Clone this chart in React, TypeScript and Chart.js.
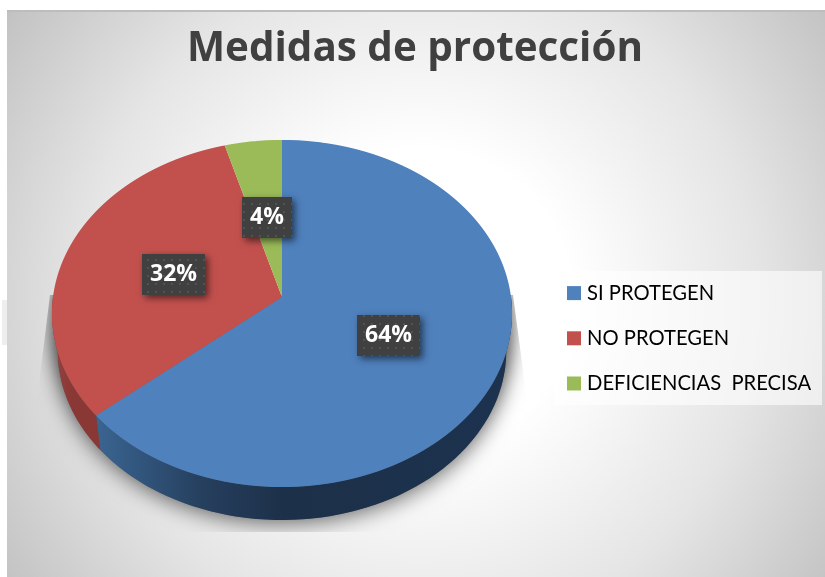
import React, { useEffect, useRef } from "react";
import { Chart, registerables } from "chart.js";

Chart.register(...registerables);

const categories = ["SI PROTEGEN", "NO PROTEGEN", "DEFICIENCIAS  PRECISA"];
const values = [63.8, 31.8, 4.4];
const faceColors = ["#4f81bd", "#c2514e", "#9bbb59"];
const wallStops: string[][] = [
  ["#3a6592", "#26405f", "#1d3049", "#1c324e"],
  ["#954340", "#8f3d3a", "#8a3835", "#8a3835"],
  ["#6d8a3b", "#6d8a3b", "#6d8a3b", "#6d8a3b"],
];
const titleText = "Medidas de protección";

// projected disc geometry (tilted circle seen in perspective)
const CX = 282;
const CY = 297;
const RX = 229;
const RY = 172;
const K = 0.095;
const FAR_SCALE = 0.975;
const FAR_DROP = 37.75;
const FONT = "'Open Sans', sans-serif";

const project = (u: number, v: number) => {
  const w = 1 - K * v;
  return { x: CX + (RX * u) / w, y: CY + (RY * v) / w };
};

// the lower rim of the disc is further away, so it is a little smaller
const projectFar = (u: number, v: number) => {
  const p = project(u, v);
  return { x: CX + FAR_SCALE * (p.x - CX), y: CY + FAR_DROP + FAR_SCALE * (p.y - CY) };
};

const trace = (
  ctx: CanvasRenderingContext2D,
  a0: number,
  a1: number,
  fn: (u: number, v: number) => { x: number; y: number },
  first: boolean
) => {
  const n = 64;
  for (let i = 0; i <= n; i++) {
    const a = a0 + ((a1 - a0) * i) / n;
    const p = fn(Math.cos(a), Math.sin(a));
    if (i === 0 && first) ctx.moveTo(p.x, p.y);
    else ctx.lineTo(p.x, p.y);
  }
};

const discPlugin = {
  id: "disc3d",
  beforeDraw(chart: any) {
    const ctx: CanvasRenderingContext2D = chart.ctx;
    ctx.save();
    ctx.fillStyle = "#ffffff";
    ctx.fillRect(0, 0, chart.width, chart.height);
    ctx.fillStyle = "#eeeeee";
    ctx.fillRect(2, 300, 5, 45);
    const g = ctx.createRadialGradient(420, 300, 0, 420, 300, 504);
    g.addColorStop(0, "#ffffff");
    g.addColorStop(0.3, "#ffffff");
    g.addColorStop(0.67, "#e5e5e5");
    g.addColorStop(1, "#c2c2c2");
    ctx.fillStyle = g;
    ctx.fillRect(7, 12, 818, 565);
    ctx.fillStyle = "#bdbdbd";
    ctx.fillRect(7, 10, 818, 2);
    ctx.fillStyle = "rgba(255,255,255,0.6)";
    ctx.fillRect(554, 271, 268, 134);
    ctx.restore();
    const lg = chart.legend;
    const pad = lg.options.labels.padding;
    lg.left = 571 - pad;
    lg.right = 825;
    lg.top = 283 - pad;
    lg.bottom = 577;
  },
  beforeDatasetsDraw(chart: any) {
    const ctx: CanvasRenderingContext2D = chart.ctx;
    const arcs = chart.getDatasetMeta(0).data;

    // soft shadow below the disc, cut off by a trapezoid as in the picture
    ctx.save();
    ctx.beginPath();
    ctx.moveTo(50, 295);
    ctx.lineTo(37, 400);
    ctx.lineTo(37, 532);
    ctx.lineTo(527, 532);
    ctx.lineTo(527, 400);
    ctx.lineTo(513, 295);
    ctx.closePath();
    ctx.clip();
    ctx.shadowColor = "rgba(0,0,0,0.6)";
    ctx.shadowBlur = 22;
    ctx.shadowOffsetY = 3;
    ctx.fillStyle = "#666666";
    ctx.beginPath();
    trace(ctx, 0, Math.PI * 2, projectFar, true);
    ctx.closePath();
    ctx.fill();
    ctx.beginPath();
    trace(ctx, 0, Math.PI * 2, project, true);
    ctx.closePath();
    ctx.fill();
    ctx.restore();

    // side wall
    const lo = 0;
    const hi = Math.PI;
    arcs.forEach((arc: any, i: number) => {
      const p = arc.getProps(["startAngle", "endAngle"], true);
      const a0 = Math.max(p.startAngle, lo);
      const a1 = Math.min(p.endAngle, hi);
      if (a1 <= a0) return;
      const s = wallStops[i];
      const xa = project(Math.cos(a1), Math.sin(a1)).x;
      const xb = project(Math.cos(a0), Math.sin(a0)).x;
      const g = ctx.createLinearGradient(Math.min(xa, xb), 0, Math.max(xa, xb), 0);
      g.addColorStop(0, s[0]);
      g.addColorStop(0.25, s[1]);
      g.addColorStop(0.45, s[2]);
      g.addColorStop(1, s[3]);
      ctx.save();
      ctx.fillStyle = g;
      ctx.beginPath();
      trace(ctx, a0, a1, project, true);
      trace(ctx, a1, a0, projectFar, false);
      ctx.closePath();
      ctx.fill();
      ctx.restore();
    });

    // top face: each row of pixels shows the library's arcs under the local perspective
    const top = Math.floor(CY - RY / (1 + K));
    const bottom = Math.ceil(CY + RY / (1 - K));
    arcs.forEach((arc: any) => {
      const R = arc.outerRadius;
      for (let py = top; py < bottom; py++) {
        const dy = py + 0.5 - CY;
        const v = dy / (RY + K * dy);
        if (Math.abs(v) > 1.02) continue;
        const w = 1 - K * v;
        const gx = RX / (R * w);
        const sy = RY / (R * w * w);
        ctx.save();
        ctx.beginPath();
        ctx.rect(0, py, chart.width, 1);
        ctx.clip();
        ctx.setTransform(gx, 0, 0, sy, CX - gx * arc.x, py + 0.5 - sy * (arc.y + R * v));
        arc.draw(ctx);
        ctx.restore();
      }
    });

    // value labels
    const total = values.reduce((a, b) => a + b, 0);
    const tile = document.createElement("canvas");
    tile.width = 8;
    tile.height = 8;
    const t = tile.getContext("2d")!;
    t.fillStyle = "#404040";
    t.fillRect(0, 0, 8, 8);
    t.fillStyle = "#525252";
    t.fillRect(3, 3, 2, 2);
    arcs.forEach((arc: any, i: number) => {
      const p = arc.getProps(["startAngle", "endAngle"], true);
      const mid = (p.startAngle + p.endAngle) / 2;
      const c = project(0.5 * Math.cos(mid), 0.5 * Math.sin(mid));
      const text = Math.round((values[i] / total) * 100) + "%";
      ctx.save();
      ctx.font = `bold 23px ${FONT}`;
      const bw = Math.round(ctx.measureText(text).width + 16);
      const bh = 41;
      const x = Math.round(c.x - bw / 2);
      const y = Math.round(c.y - bh / 2) + 2;
      ctx.shadowColor = "rgba(0,0,0,0.55)";
      ctx.shadowBlur = 7;
      ctx.shadowOffsetX = 3;
      ctx.shadowOffsetY = 3;
      ctx.fillStyle = "#404040";
      ctx.fillRect(x, y, bw, bh);
      ctx.shadowColor = "transparent";
      ctx.fillStyle = ctx.createPattern(tile, "repeat")!;
      ctx.fillRect(x, y, bw, bh);
      ctx.fillStyle = "#ffffff";
      ctx.textAlign = "center";
      ctx.textBaseline = "middle";
      ctx.fillText(text, x + bw / 2, y + bh / 2);
      ctx.restore();
    });
    return false;
  },
};

export default function App() {
  const ref = useRef<HTMLCanvasElement>(null);
  useEffect(() => {
    document.body.style.margin = "0";
    const chart = new Chart(ref.current!, {
      type: "pie",
      data: {
        labels: categories,
        datasets: [{ data: values, backgroundColor: faceColors, borderWidth: 0 }],
      },
      options: {
        responsive: false,
        animation: false,
        layout: { padding: { left: 5, top: 12, bottom: 10, right: 0 } },
        plugins: {
          title: {
            display: true,
            text: titleText,
            color: "#404040",
            font: { family: FONT, size: 40.4, weight: "bold" },
            padding: { top: 13, bottom: 10 },
          },
          tooltip: { enabled: false },
          legend: {
            position: "chartArea",
            align: "start",
            labels: {
              boxWidth: 6,
              boxHeight: 6,
              padding: 25,
              color: "#464646",
              font: { family: "Lato, sans-serif", size: 20.2 },
              generateLabels: () =>
                categories.map((text, i) => ({
                  text,
                  fillStyle: faceColors[i],
                  strokeStyle: faceColors[i],
                  lineWidth: 8,
                  lineJoin: "miter",
                  hidden: false,
                  index: i,
                })),
            },
          },
        },
      } as any,
      plugins: [discPlugin as any],
    });
    return () => chart.destroy();
  }, []);
  return <canvas ref={ref} width={825} height={577} style={{ display: "block" }} />;
}
